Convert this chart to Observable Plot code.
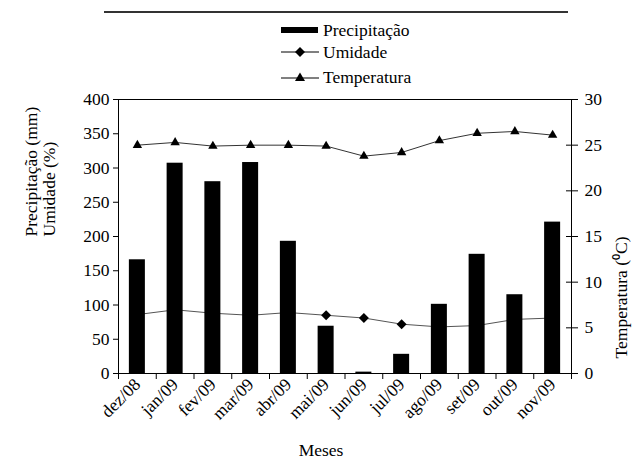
<!DOCTYPE html>
<html><head><meta charset="utf-8">
<script src="https://cdn.jsdelivr.net/npm/d3@7"></script>
<script src="https://cdn.jsdelivr.net/npm/@observablehq/plot@0.6"></script>
</head>
<body style="margin:0;background:#fff;font-family:'Liberation Serif';font-size:17.5px">
<div id="wrap" style="position:relative;width:638px;height:472px;">
  <div id="legend" style="position:relative;width:638px;height:90px;">
    <div style="position:absolute;left:104px;top:11px;width:464px;height:2px;background:#333;"></div>
    <div class="item" style="position:absolute;left:281px;top:20px;height:20px;display:flex;align-items:center;font-family:'Liberation Serif';font-size:17.5px;white-space:nowrap"><svg width="38" height="12" style="margin-right:4px;display:block"><rect x="0" y="3" width="37" height="6" fill="#000"/></svg>Precipitação</div>
    <div class="item" style="position:absolute;left:281px;top:42px;height:20px;display:flex;align-items:center;font-family:'Liberation Serif';font-size:17.5px;white-space:nowrap"><svg width="38" height="12" style="margin-right:4px;display:block"><line x1="0" x2="38" y1="6" y2="6" stroke="#000" stroke-width="1"/><path d="M19,1 L24,6 L19,11 L14,6Z" fill="#000"/></svg>Umidade</div>
    <div class="item" style="position:absolute;left:281px;top:67px;height:20px;display:flex;align-items:center;font-family:'Liberation Serif';font-size:17.5px;white-space:nowrap"><svg width="38" height="12" style="margin-right:4px;display:block"><line x1="0" x2="38" y1="7" y2="7" stroke="#000" stroke-width="1"/><path d="M19,1.5 L24,10 L14,10Z" fill="#000"/></svg>Temperatura</div>
  </div>
  <div id="chart"></div>
</div>
<script>
const months = ["dez/08","jan/09","fev/09","mar/09","abr/09","mai/09","jun/09","jul/09","ago/09","set/09","out/09","nov/09"];
const precip = [166,307,280,308,193,69,2,28,101,174,115,221];
const humidity = [86,93,88,85,89,85,81,72,68,70,79,81];
const temperature = [25.0,25.3,24.9,25.0,25.0,24.9,23.8,24.2,25.5,26.3,26.5,26.1];
const leftTicks = [0,50,100,150,200,250,300,350,400];
const rightTicks = [0,5,10,15,20,25,30];

const k = 400/30;
const data = months.map((m,i)=>({i, month:m, p:precip[i], h:humidity[i], t:temperature[i]*k}));
const cx = d => d.i + 0.5;

const plot = Plot.plot({
  width:638, height:382, marginTop:9, marginBottom:99, marginLeft:118, marginRight:67,
  style:{fontFamily:"Liberation Serif", fontSize:"17.5px", color:"#000", background:"#fff", overflow:"visible"},
  x:{domain:[0,12], axis:null},
  y:{domain:[0,400], axis:null},
  marks:[
    Plot.lineY(data,{x:cx, y:"h", stroke:"#555", strokeWidth:1}),
    Plot.dot(data,{x:cx, y:"h", symbol:"diamond2", r:4.5, fill:"#000", stroke:"none"}),
    Plot.rectY(data,{x1:d=>d.i+0.288, x2:d=>d.i+0.712, y:"p", fill:"#000"}),
    Plot.lineY(data,{x:cx, y:"t", stroke:"#333", strokeWidth:1}),
    Plot.dot(data,{x:cx, y:"t", symbol:"triangle2", r:4.5, fill:"#000", stroke:"none"}),
    Plot.frame({stroke:"#000"}),
    Plot.axisY({anchor:"left", ticks:leftTicks, tickSize:5, tickPadding:4, label:null}),
    Plot.axisY({anchor:"right", ticks:rightTicks.map(t=>t*k), tickFormat:d=>String(Math.round(d/k)), tickSize:6, tickPadding:7, label:null}),
    Plot.axisY({anchor:"right", ticks:rightTicks.map(t=>t*k), tickFormat:()=>"", tickSize:-6, label:null}),
    Plot.axisX({ticks:d3.range(0,13), tickSize:6, tickFormat:()=>"", label:null}),
    Plot.axisX({ticks:months.map((m,i)=>i+0.5), tickFormat:d=>months[Math.floor(d)], tickSize:0, tickRotate:-45, tickPadding:8, label:null}),
    Plot.text(["Precipitação (mm)"],{text:d=>d, frameAnchor:"left", dx:-87, rotate:-90}),
    Plot.text(["Umidade (%)"],{text:d=>d, frameAnchor:"left", dx:-69, rotate:-90}),
    Plot.text(["Temperatura (⁰C)"],{text:d=>d, frameAnchor:"right", dx:50, rotate:-90}),
    Plot.text(["Meses"],{text:d=>d, frameAnchor:"bottom", dx:-24, dy:82})
  ]
});
plot.setAttribute("font-family", "Liberation Serif");
plot.setAttribute("font-size", "17.5");
plot.querySelectorAll("g[aria-label$='axis'], g[aria-label='text'], g[aria-label*='tick label']").forEach(g => {
  g.setAttribute("font-family", "Liberation Serif");
});
plot.querySelectorAll("text").forEach(t => {
  t.style.setProperty("font-family", "Liberation Serif", "important");
  t.style.setProperty("font-size", "17.5px", "important");
});
document.querySelectorAll(".item").forEach(el => {
  el.style.setProperty("font-family", "Liberation Serif", "important");
  el.style.setProperty("font-size", "17.5px", "important");
});
document.getElementById("chart").appendChild(plot);
</script>
</body></html>
